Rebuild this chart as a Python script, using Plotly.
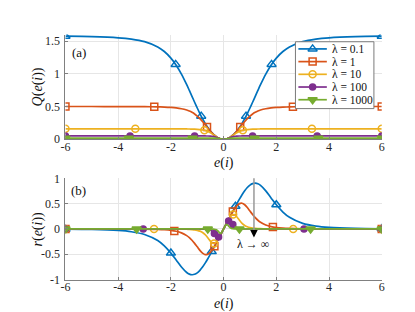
import plotly.graph_objects as go

# ---------------- data ----------------
E = [-6, -5, -4, -3.5, -3, -2.5, -2.25, -2, -1.8, -1.6, -1.4, -1.3, -1.2, -1.1, -1, -0.9, -0.8, -0.7, -0.6, -0.5,
     -0.45, -0.4, -0.35, -0.3, -0.25, -0.2, -0.15, -0.1, -0.05, 0, 0.05, 0.1, 0.15, 0.2, 0.25, 0.3, 0.35, 0.4, 0.45,
     0.5, 0.6, 0.7, 0.8, 0.9, 1, 1.1, 1.2, 1.3, 1.4, 1.6, 1.8, 2, 2.25, 2.5, 3, 3.5, 4, 5, 6]

Q_l01 = [1.5751, 1.5686, 1.5511, 1.5310, 1.4917, 1.4108, 1.3410, 1.2403, 1.1315, 0.9949, 0.8330, 0.7453, 0.6553,
         0.5650, 0.4767, 0.3923, 0.3136, 0.2421, 0.1788, 0.1246, 0.1010, 0.0799, 0.0612, 0.045, 0.03125, 0.02,
         0.01125, 0.005, 0.00125, 0,
         0.00125, 0.005, 0.01125, 0.02, 0.03125, 0.045, 0.0612, 0.0799, 0.1010, 0.1246, 0.1788, 0.2421, 0.3136,
         0.3923, 0.4767, 0.5650, 0.6553, 0.7453, 0.8330, 0.9949, 1.1315, 1.2403, 1.3410, 1.4108, 1.4917, 1.5310,
         1.5511, 1.5686, 1.5751]
Q_l1 = [0.4998, 0.4996, 0.4990, 0.4983, 0.4969, 0.4937, 0.4905, 0.4851, 0.4778, 0.4657, 0.4454, 0.4303, 0.4107,
        0.3854, 0.3536, 0.3147, 0.2695, 0.2200, 0.1694, 0.1213, 0.0992, 0.0790, 0.0608, 0.04482, 0.03119, 0.01998,
        0.01125, 0.005, 0.00125, 0,
        0.00125, 0.005, 0.01125, 0.01998, 0.03119, 0.04482, 0.0608, 0.0790, 0.0992, 0.1213, 0.1694, 0.2200, 0.2695,
        0.3147, 0.3536, 0.3854, 0.4107, 0.4303, 0.4454, 0.4657, 0.4778, 0.4851, 0.4905, 0.4937, 0.4969, 0.4983,
        0.4990, 0.4996, 0.4998]
Q_l10 = [0.1581, 0.1581, 0.1581, 0.1581, 0.1580, 0.1579, 0.1578, 0.1576, 0.1574, 0.1569, 0.1561, 0.1554, 0.1544,
         0.1530, 0.1508, 0.1473, 0.1418, 0.1329, 0.1188, 0.09806, 0.08527, 0.07138, 0.05711, 0.04328, 0.03066,
         0.01984, 0.01122, 0.005, 0.00125, 0,
         0.00125, 0.005, 0.01122, 0.01984, 0.03066, 0.04328, 0.05711, 0.07138, 0.08527, 0.09806, 0.1188, 0.1329,
         0.1418, 0.1473, 0.1508, 0.1530, 0.1544, 0.1554, 0.1561, 0.1569, 0.1574, 0.1576, 0.1578, 0.1579, 0.1580,
         0.1581, 0.1581, 0.1581, 0.1581]
Q_l100 = [0.05, 0.05, 0.05, 0.05, 0.05, 0.05, 0.05, 0.04999, 0.04997, 0.04996, 0.04994, 0.04991, 0.04988, 0.0498,
          0.04975, 0.04962, 0.0494, 0.04899, 0.04818, 0.04642, 0.04483, 0.0424, 0.03873, 0.03345, 0.0265, 0.01857,
          0.01098, 0.004975, 0.00125, 0,
          0.00125, 0.004975, 0.01098, 0.01857, 0.0265, 0.03345, 0.03873, 0.0424, 0.04483, 0.04642, 0.04818,
          0.04899, 0.0494, 0.04962, 0.04975, 0.0498, 0.04988, 0.04991, 0.04994, 0.04996, 0.04997, 0.04999, 0.05,
          0.05, 0.05, 0.05, 0.05, 0.05, 0.05]
Q_l1000 = [0.0158, 0.0158, 0.0158, 0.0158, 0.0158, 0.0158, 0.0158, 0.0158, 0.0158, 0.0158, 0.0158, 0.0158, 0.0158,
           0.0158, 0.0158, 0.0158, 0.01579, 0.01578, 0.01575, 0.01569, 0.01562, 0.01551, 0.01531, 0.01492, 0.01411,
           0.0124, 0.00917, 0.00477, 0.00125, 0,
           0.00125, 0.00477, 0.00917, 0.0124, 0.01411, 0.01492, 0.01531, 0.01551, 0.01562, 0.01569, 0.01575,
           0.01578, 0.01579, 0.0158, 0.0158, 0.0158, 0.0158, 0.0158, 0.0158, 0.0158, 0.0158, 0.0158, 0.0158,
           0.0158, 0.0158, 0.0158, 0.0158, 0.0158, 0.0158]

R_l01 = [-0.0040, -0.0099, -0.0292, -0.0547, -0.1093, -0.2300, -0.3346, -0.4771, -0.6134, -0.7512, -0.8597, -0.8918,
         -0.9045, -0.8961, -0.8668, -0.8182, -0.7533, -0.6755, -0.5885, -0.4953, -0.4472, -0.3985, -0.3492, -0.2996,
         -0.2499, -0.2, -0.15, -0.1, -0.05, 0,
         0.05, 0.1, 0.15, 0.2, 0.2499, 0.2996, 0.3492, 0.3985, 0.4472, 0.4953, 0.5885, 0.6755, 0.7533, 0.8182,
         0.8668, 0.8961, 0.9045, 0.8918, 0.8597, 0.7512, 0.6134, 0.4771, 0.3346, 0.2300, 0.1093, 0.0547, 0.0292,
         0.0099, 0.0040]
R_l1 = [-0.0001, -0.0003, -0.0010, -0.0019, -0.0040, -0.0099, -0.0164, -0.0285, -0.0462, -0.0771, -0.1314, -0.1717,
        -0.2227, -0.2844, -0.3536, -0.4223, -0.4780, -0.5069, -0.4998, -0.4565, -0.4237, -0.3851, -0.3423, -0.2964,
        -0.2485, -0.1995, -0.1499, -0.1, -0.05, 0,
        0.05, 0.1, 0.1499, 0.1995, 0.2485, 0.2964, 0.3423, 0.3851, 0.4237, 0.4565, 0.4998, 0.5069, 0.4780, 0.4223,
        0.3536, 0.2844, 0.2227, 0.1717, 0.1314, 0.0771, 0.0462, 0.0285, 0.0164, 0.0099, 0.0040, 0.0019, 0.0010,
        0.0003, 0.0001]
R_l10 = [0, 0, 0, -0.0001, -0.0001, -0.0003, -0.0006, -0.0010, -0.0017, -0.0030, -0.0057, -0.0081, -0.0118,
         -0.0178, -0.0274, -0.0433, -0.0695, -0.1116, -0.1725, -0.2414, -0.2688, -0.2842, -0.2838, -0.2669, -0.2360,
         -0.1953, -0.1489, -0.0999, -0.05, 0,
         0.05, 0.0999, 0.1489, 0.1953, 0.2360, 0.2669, 0.2838, 0.2842, 0.2688, 0.2414, 0.1725, 0.1116, 0.0695,
         0.0433, 0.0274, 0.0178, 0.0118, 0.0081, 0.0057, 0.0030, 0.0017, 0.0010, 0.0006, 0.0003, 0.0001, 0.0001,
         0, 0, 0]
R_l100 = [0, 0, 0, 0, 0, 0, 0, 0, -0.0001, -0.0001, -0.0002, -0.0003, -0.0004, -0.0006, -0.0010, -0.0017, -0.0029,
          -0.0056, -0.0115, -0.0256, -0.0391, -0.0596, -0.0885, -0.1232, -0.1524, -0.1601, -0.1393, -0.0985,
          -0.04995, 0,
          0.04995, 0.0985, 0.1393, 0.1601, 0.1524, 0.1232, 0.0885, 0.0596, 0.0391, 0.0256, 0.0115, 0.0056, 0.0029,
          0.0017, 0.0010, 0.0006, 0.0004, 0.0003, 0.0002, 0.0001, 0.0001, 0, 0, 0, 0, 0, 0, 0, 0]
R_l1000 = [0, 0, 0, 0, 0, 0, 0, 0, 0, 0, 0, 0, 0, 0, 0, 0, -0.0001, -0.0002, -0.0004, -0.0010, -0.0017, -0.0029,
           -0.0055, -0.0109, -0.0230, -0.0477, -0.0811, -0.0867, -0.0495, 0,
           0.0495, 0.0867, 0.0811, 0.0477, 0.0230, 0.0109, 0.0055, 0.0029, 0.0017, 0.0010, 0.0004, 0.0002, 0.0001,
           0, 0, 0, 0, 0, 0, 0, 0, 0, 0, 0, 0, 0, 0, 0, 0]

# marker points, panel (a)
MQ_E = {
    "0.1": [-6, -1.82, -0.85, 0.85, 1.82, 6],
    "1": [-6, -2.63, -0.63, 0.63, 2.63, 6],
    "10": [-6, -3.35, -0.73, 0.73, 3.35, 6],
    "100": [-6, -3.55, -1.1, 1.1, 3.55, 6],
    "1000": [-6, -3.6, -1.18, 1.18, 3.6, 6],
}
MQ_V = {
    "0.1": [1.5751, 1.1437, 0.3522, 0.3522, 1.1437, 1.5751],
    "1": [0.4998, 0.4949, 0.1845, 0.1845, 0.4949, 0.4998],
    "10": [0.1581, 0.1580, 0.136, 0.136, 0.1580, 0.1581],
    "100": [0.05, 0.05, 0.0498, 0.0498, 0.05, 0.05],
    "1000": [0.0158, 0.0158, 0.0158, 0.0158, 0.0158, 0.0158],
}
# marker points, panel (b)
MR_E = {
    "0.1": [-6, -2, -0.45, 0.45, 2, 6],
    "1": [-6, -1.87, -0.35, 0.35, 1.87, 6],
    "10": [-6, -2.64, -0.36, 0.36, 2.64, 6],
    "100": [-6, -3.05, -0.35, -0.19, 0.19, 0.35, 3.05, 6],
    "1000": [-6, -3.3, -0.6, 0.6, 3.3, 6],
}
MR_V = {
    "0.1": [-0.004, -0.4771, -0.4472, 0.4472, 0.4771, 0.004],
    "1": [-0.0001, -0.0389, -0.3423, 0.3423, 0.0389, 0.0001],
    "10": [0, -0.0004, -0.2852, 0.2852, 0.0004, 0],
    "100": [0, 0, -0.0885, -0.1581, 0.1581, 0.0885, 0, 0],
    "1000": [0, 0, -0.0004, 0.0004, 0, 0],
}

LAMBDAS = ["0.1", "1", "10", "100", "1000"]
Q_SERIES = [Q_l01, Q_l1, Q_l10, Q_l100, Q_l1000]
R_SERIES = [R_l01, R_l1, R_l10, R_l100, R_l1000]
X_TICKS = [-6, -4, -2, 0, 2, 4, 6]
X_TICKTEXT = ["-6", "-4", "-2", "0", "2", "4", "6"]
QA_TICKS = [0, 0.5, 1, 1.5]
QA_TICKTEXT = ["0", "0.5", "1", "1.5"]
RB_TICKS = [-1, -0.5, 0, 0.5, 1]
RB_TICKTEXT = ["-1", "-0.5", "0", "0.5", "1"]

# ---------------- styles / layout (pixel geometry) ----------------
COLORS = ["#0072BD", "#D95319", "#EDB120", "#7E2F8E", "#77AC30"]
SYMBOLS = ["triangle-up-open", "square-open", "circle-open", "circle", "triangle-down"]
MSIZES = [8, 7, 7, 6, 8]
FONT = "Liberation Serif"
W, H = 415, 312
X_L, X_R = 53.5, 376          # axes left/right (px)
A_TOP, A_BOT = 20.5, 130      # panel (a) top/bottom (px)
B_TOP, B_BOT = 171, 277       # panel (b) top/bottom (px)
LEG_BOX = (288, 28, 368, 98)  # legend box (px)
LEG_ROW_Y = [35.5, 48.8, 62.1, 75.4, 88.7]
LEG_LINE = (291, 320)
LEG_TEXT_X = 323
ARROW_X = 245.7

fig = go.Figure()

for i, lam in enumerate(LAMBDAS):
    c = COLORS[i]
    mk = dict(symbol=SYMBOLS[i], size=MSIZES[i], color=c, line=dict(color=c, width=1.5))
    ln = dict(color=c, width=1.7, shape="spline", smoothing=0.8)
    fig.add_trace(go.Scatter(x=E, y=Q_SERIES[i], mode="lines", line=ln, xaxis="x", yaxis="y", hoverinfo="skip"))
    fig.add_trace(go.Scatter(x=MQ_E[lam], y=MQ_V[lam], mode="markers", marker=mk, xaxis="x", yaxis="y",
                             hoverinfo="skip"))
    fig.add_trace(go.Scatter(x=E, y=R_SERIES[i], mode="lines", line=ln, xaxis="x2", yaxis="y2", hoverinfo="skip"))
    fig.add_trace(go.Scatter(x=MR_E[lam], y=MR_V[lam], mode="markers", marker=mk, xaxis="x2", yaxis="y2",
                             hoverinfo="skip"))

# legend (drawn in a pixel-coordinate overlay so it can be as compact as the original)
bx0, by0, bx1, by1 = LEG_BOX
fig.add_trace(go.Scatter(x=[bx0, bx1, bx1, bx0, bx0], y=[by0, by0, by1, by1, by0], mode="lines",
                         fill="toself", fillcolor="white", line=dict(color="#7a7a7a", width=1),
                         xaxis="x3", yaxis="y3", hoverinfo="skip"))
for i, lam in enumerate(LAMBDAS):
    c = COLORS[i]
    yy = LEG_ROW_Y[i]
    fig.add_trace(go.Scatter(x=[LEG_LINE[0], LEG_LINE[1]], y=[yy, yy], mode="lines", line=dict(color=c, width=1.7),
                             xaxis="x3", yaxis="y3", hoverinfo="skip"))
    fig.add_trace(go.Scatter(x=[(LEG_LINE[0] + LEG_LINE[1]) / 2], y=[yy], mode="markers",
                             marker=dict(symbol=SYMBOLS[i], size=MSIZES[i], color=c, line=dict(color=c, width=1.5)),
                             xaxis="x3", yaxis="y3", hoverinfo="skip"))

axis_common = dict(
    showgrid=True, gridcolor="#e6e6e6", gridwidth=1, zeroline=False,
    showline=True, linecolor="#808080", linewidth=1, mirror=False,
    ticks="inside", ticklen=3, tickcolor="#808080",
    tickfont=dict(family=FONT, size=12, color="#262626"),
)
XDOM = [X_L / W, X_R / W]

annotations = []
def ann(text, x, y, size=14, angle=0, xanchor="center"):
    annotations.append(dict(text=text, xref="x3", yref="y3", x=x, y=y, showarrow=False, textangle=angle,
                            xanchor=xanchor, yanchor="middle", font=dict(family=FONT, size=size, color="#111")))

ann("<i>Q</i>(<i>e</i>(<i>i</i>))", 25, (A_TOP + A_BOT) / 2, angle=-90)
ann("<i>r</i>(<i>e</i>(<i>i</i>))", 25, (B_TOP + B_BOT) / 2, angle=-90)
ann("<i>e</i>(<i>i</i>)", 215, 155)
ann("<i>e</i>(<i>i</i>)", 215, 303)
ann("(a)", 67, 39, size=13)
ann("(b)", 67, 183.5, size=13)
ann("λ → ∞", 245, 240, size=12)
for i, lam in enumerate(LAMBDAS):
    ann("λ = " + lam, LEG_TEXT_X, LEG_ROW_Y[i], size=11.5, xanchor="left")
annotations.append(dict(text="", xref="x3", yref="y3", x=ARROW_X, y=233, axref="x3", ayref="y3",
                        ax=ARROW_X, ay=224, showarrow=True, arrowhead=2, arrowsize=1.0, arrowwidth=1.5,
                        arrowcolor="#000"))

fig.update_layout(
    width=W, height=H,
    margin=dict(l=0, r=0, t=0, b=0),
    paper_bgcolor="white", plot_bgcolor="rgba(0,0,0,0)",
    font=dict(family=FONT, color="#262626"),
    showlegend=False,
    xaxis=dict(domain=XDOM, range=[-6, 6], tickvals=X_TICKS, ticktext=X_TICKTEXT, anchor="y",
               ticklabelstandoff=-4, **axis_common),
    yaxis=dict(domain=[(H - A_BOT) / H, (H - A_TOP) / H], range=[0, 1.6], tickvals=QA_TICKS,
               ticktext=QA_TICKTEXT, anchor="x", ticklabelstandoff=2, **axis_common),
    xaxis2=dict(domain=XDOM, range=[-6, 6], tickvals=X_TICKS, ticktext=X_TICKTEXT, anchor="y2",
                ticklabelstandoff=-4, **axis_common),
    yaxis2=dict(domain=[(H - B_BOT) / H, (H - B_TOP) / H], range=[-1, 1], tickvals=RB_TICKS,
                ticktext=RB_TICKTEXT, anchor="x2", ticklabelstandoff=2, **axis_common),
    xaxis3=dict(domain=[0, 1], range=[0, W], visible=False, fixedrange=True, anchor="y3"),
    yaxis3=dict(domain=[0, 1], range=[H, 0], visible=False, fixedrange=True, anchor="x3"),
    shapes=[dict(type="line", xref="x3", yref="y3", x0=ARROW_X, x1=ARROW_X, y0=B_TOP, y1=226,
                 line=dict(color="#999999", width=1.5))],
    annotations=annotations,
)

fig.write_html("out.html")
